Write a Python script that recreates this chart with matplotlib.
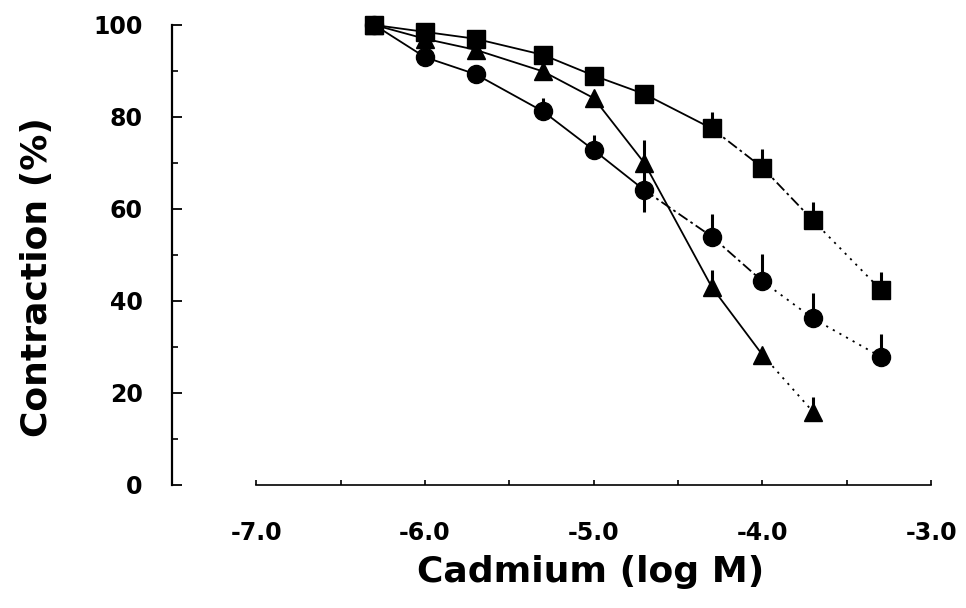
import matplotlib
matplotlib.use("Agg")
import matplotlib.pyplot as plt

plt.rcParams['font.family'] = ['DejaVu Sans']
plt.rcParams['font.weight'] = 'bold'
plt.rcParams['xtick.direction'] = 'in'
plt.rcParams['ytick.direction'] = 'in'

# log M cadmium concentrations
log_conc = [-6.3, -6.0, -5.7, -5.3, -5.0, -4.7, -4.3, -4.0, -3.7, -3.3]

# squares
sq_mean = [100, 98.5, 97, 93.5, 89, 85, 77.5, 69, 57.5, 42.5]
sq_err_up = [0, 0, 0, 0.5, 0.5, 0.5, 3.6, 4, 4, 3.7]
sq_err_lo = [0, 0, 0, 0, 0, 0, 0, 0, 0, 0]

# circles
ci_mean = [100, 93, 89.3, 81.2, 72.8, 64.1, 54, 44.3, 36.2, 27.9]
ci_err_up = [0, 0.5, 0.5, 3, 3.3, 5, 5, 6, 5.5, 5]
ci_err_lo = [0, 0, 0, 0, 0, 4.7, 0, 0, 0, 0]

# triangles (no point at -3.3)
tr_mean = [100, 97, 94.6, 89.9, 84.1, 70, 43, 28.3, 15.9]
tr_err_up = [0, 0, 0, 0, 0, 5, 3.7, 0, 3.3]
tr_err_lo = [0, 0, 0, 0, 0, 0, 0, 0, 0]

x_ticklabels = ["-7.0", "-6.0", "-5.0", "-4.0", "-3.0"]

fig = plt.figure(figsize=(9.66, 6.08), dpi=100)
ax = fig.add_axes([172 / 966, 123 / 608, 776 / 966, 460 / 608])


def seg_styles(n_solid, n_dashdot, n_dotted):
    return (['-'] * n_solid + [(0, (6, 2, 1.5, 2))] * n_dashdot
            + [(0, (1.2, 3))] * n_dotted)


series = [
    (sq_mean, sq_err_lo, sq_err_up, 's', seg_styles(6, 2, 1)),
    (ci_mean, ci_err_lo, ci_err_up, 'o', seg_styles(5, 2, 2)),
    (tr_mean, tr_err_lo, tr_err_up, '^', seg_styles(7, 0, 1)),
]

for mean, lo, up, mk, styles in series:
    xs = log_conc[:len(mean)]
    for i in range(len(xs) - 1):
        ax.plot(xs[i:i + 2], mean[i:i + 2], color='black', lw=1.3,
                ls=styles[i], clip_on=False, zorder=2)
    ax.errorbar(xs, mean, yerr=[lo, up], fmt=mk, ms=13, color='black',
                ecolor='black', elinewidth=2.2, capsize=0, ls='none',
                clip_on=False, zorder=3)

ax.set_xlim(-7.5, -2.9)
ax.set_ylim(0, 100)

for s in ['top', 'right']:
    ax.spines[s].set_visible(False)
ax.spines['left'].set_bounds(0, 100)
ax.spines['bottom'].set_bounds(-7, -3)
ax.spines['left'].set_linewidth(1.6)
ax.spines['bottom'].set_linewidth(1.2)

ax.set_yticks([0, 20, 40, 60, 80, 100])
ax.set_yticks([10, 30, 50, 70, 90], minor=True)
ax.set_xticks([-7, -6, -5, -4, -3])
ax.set_xticklabels(x_ticklabels)
ax.set_xticks([-6.5, -5.5, -4.5, -3.5], minor=True)

ax.tick_params(axis='y', which='major', direction='in', length=7, width=1.3,
               pad=21, labelsize=17)
ax.tick_params(axis='y', which='minor', direction='in', length=4, width=1.2)
ax.tick_params(axis='x', which='both', direction='in', length=3.5, width=1.2,
               pad=26, labelsize=17)

ax.set_ylabel("Contraction (%)", fontsize=26, fontweight='bold')
ax.yaxis.set_label_coords(-0.152, 0.452)
ax.set_xlabel("Cadmium (log M)", fontsize=26, fontweight='bold')
ax.xaxis.set_label_coords(0.539, -0.152)

fig.savefig("out.png", dpi=100)
